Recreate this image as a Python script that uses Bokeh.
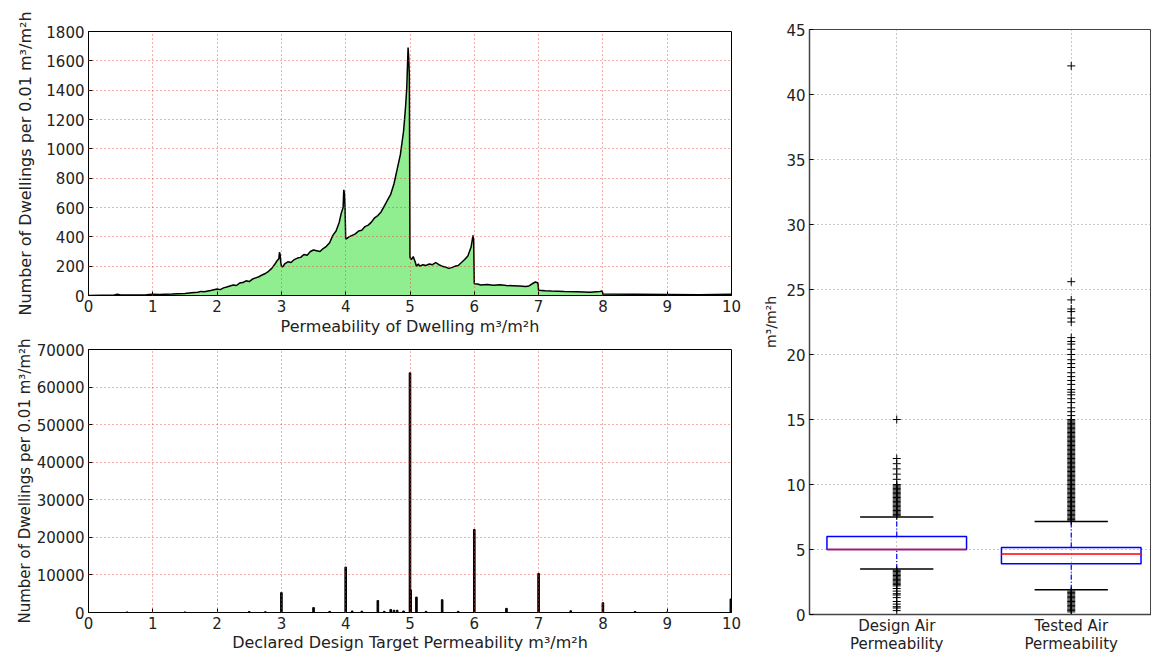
from bokeh.plotting import figure
from bokeh.layouts import row, column
from bokeh.models import FixedTicker, Range1d
from bokeh.embed import file_html
from bokeh.resources import INLINE

# ---------------- data ----------------
# Top: tested permeability histogram (count per 0.01 bin)
perm_x = [0.0, 0.2, 0.4, 0.45, 0.5, 0.7, 0.9, 1.0, 1.1, 1.2, 1.3, 1.4, 1.5, 1.6, 1.7, 1.75, 1.8, 1.9,
          2.0, 2.05, 2.1, 2.15, 2.2, 2.25, 2.3, 2.35, 2.4, 2.45, 2.5, 2.55, 2.6, 2.65, 2.7, 2.75, 2.8,
          2.85, 2.9, 2.93, 2.96, 2.97, 2.98, 2.99, 3.0, 3.02, 3.05, 3.1, 3.15, 3.2, 3.25, 3.3, 3.35,
          3.4, 3.45, 3.5, 3.55, 3.6, 3.65, 3.7, 3.75, 3.8, 3.85, 3.9, 3.93, 3.96, 3.97, 3.98, 3.99,
          4.0, 4.02, 4.05, 4.1, 4.15, 4.2, 4.25, 4.3, 4.35, 4.4, 4.45, 4.5, 4.55, 4.6, 4.65, 4.7,
          4.75, 4.8, 4.85, 4.9, 4.93, 4.95, 4.97, 4.98, 4.99, 5.0, 5.02, 5.05, 5.08, 5.1, 5.13, 5.15,
          5.2, 5.25, 5.3, 5.35, 5.4, 5.45, 5.5, 5.55, 5.6, 5.65, 5.7, 5.75, 5.8, 5.85, 5.9, 5.95,
          5.98, 5.99, 6.0, 6.05, 6.1, 6.2, 6.3, 6.4, 6.5, 6.6, 6.7, 6.8, 6.85, 6.9, 6.95, 6.99,
          7.0, 7.1, 7.2, 7.4, 7.6, 7.8, 7.95, 7.99, 8.0, 8.5, 9.0, 9.5, 10.0]
perm_count = [0, 2, 4, 8, 4, 3, 5, 8, 6, 9, 10, 12, 14, 18, 22, 28, 25, 34,
              45, 40, 52, 58, 65, 72, 68, 85, 88, 100, 95, 112, 120, 128, 140, 150, 165,
              185, 215, 235, 250, 295, 280, 230, 200, 195, 215, 230, 225, 245, 255, 260, 280,
              275, 300, 310, 305, 300, 320, 335, 360, 410, 440, 500, 560, 600, 720, 700, 600,
              385, 390, 400, 410, 420, 440, 445, 470, 480, 500, 530, 545, 570, 610, 650, 690,
              760, 860, 960, 1120, 1280, 1420, 1690, 1620, 1500, 260, 245, 265, 230, 200, 215, 200,
              210, 205, 215, 210, 225, 210, 200, 195, 185, 190, 200, 205, 225, 245, 270, 330,
              410, 380, 80, 78, 72, 75, 70, 73, 68, 66, 64, 62, 65, 80, 92, 85,
              35, 32, 30, 27, 25, 22, 28, 30, 10, 8, 6, 5, 8]

# Bottom: declared design target permeability histogram (count per 0.01 bin)
design_x = [0.6, 1.5, 2.5, 2.75, 3.0, 3.5, 3.75, 4.0, 4.1, 4.25, 4.5, 4.6, 4.7, 4.75, 4.8, 4.9,
            5.0, 5.01, 5.1, 5.25, 5.5, 5.75, 6.0, 6.5, 7.0, 7.5, 8.0, 8.5, 9.0, 9.99]
design_count = [150, 150, 250, 200, 5300, 1300, 300, 12100, 400, 350, 3200, 300, 800, 600, 600, 400,
                63800, 6000, 4100, 300, 3400, 300, 22100, 1100, 10400, 450, 2600, 250, 150, 3600]

# Right: box plot statistics
box_labels = ["Design Air\nPermeability", "Tested Air\nPermeability"]
box_pos = [1, 2]
box_q1 = [5.0, 3.9]
box_median = [5.0, 4.65]
box_q3 = [6.0, 5.15]
whisker_lo = [3.5, 1.9]
whisker_hi = [7.5, 7.15]
design_outliers = [7.6, 7.7, 7.8, 7.9, 8.0, 8.1, 8.2, 8.3, 8.4, 8.5, 8.6, 8.7, 8.8, 8.9, 9.0, 9.1,
                   9.2, 9.3, 9.4, 9.5, 9.6, 9.7, 9.8, 9.9, 10.0, 10.4, 10.8, 11.2, 11.6, 12.0, 15.0,
                   3.4, 3.3, 3.2, 3.1, 3.0, 2.9, 2.8, 2.7, 2.6, 2.5, 2.4, 2.3, 2.2, 2.0, 1.8, 1.6,
                   1.5, 1.3, 1.0, 0.8, 0.6, 0.5, 0.3]
tested_outliers = [7.2, 7.3, 7.4, 7.5, 7.6, 7.7, 7.8, 7.9, 8.0, 8.1, 8.2, 8.3, 8.4, 8.5, 8.6, 8.7,
                   8.8, 8.9, 9.0, 9.1, 9.2, 9.3, 9.4, 9.5, 9.6, 9.7, 9.8, 9.9, 10.0, 10.1, 10.2,
                   10.3, 10.4, 10.5, 10.6, 10.7, 10.8, 10.9, 11.0, 11.1, 11.2, 11.3, 11.4, 11.5,
                   11.6, 11.7, 11.8, 11.9, 12.0, 12.1, 12.2, 12.3, 12.4, 12.5, 12.6, 12.7, 12.8,
                   12.9, 13.0, 13.1, 13.2, 13.3, 13.4, 13.5, 13.6, 13.7, 13.8, 13.9, 14.0, 14.1,
                   14.2, 14.3, 14.4, 14.5, 14.6, 14.7, 14.8, 14.9, 15.0, 15.3, 15.6, 15.9, 16.3,
                   16.6, 16.9, 17.1, 17.3, 17.7, 18.0, 18.3, 18.6, 19.0, 19.3, 19.6, 20.0, 20.4,
                   20.8, 21.0, 21.3, 22.5, 22.8, 23.3, 23.5, 24.2, 25.6, 42.2,
                   1.8, 1.7, 1.6, 1.5, 1.4, 1.3, 1.2, 1.1, 1.0, 0.9, 0.8, 0.7, 0.6, 0.5, 0.4, 0.3, 0.2]

FONT = "DejaVu Sans"
TXT = "#222222"


def style_common(p):
    p.outline_line_color = "black"
    p.outline_line_width = 1
    p.axis.axis_line_color = "black"
    p.axis.major_tick_in = 4
    p.axis.major_tick_out = 0
    p.axis.major_tick_line_color = "black"
    p.axis.minor_tick_line_color = None
    p.axis.major_label_text_font = FONT
    p.axis.major_label_text_font_size = "15px"
    p.axis.major_label_text_color = TXT
    p.axis.major_label_standoff = 4
    p.axis.axis_label_text_font = FONT
    p.axis.axis_label_text_font_size = "16px"
    p.axis.axis_label_text_font_style = "normal"
    p.axis.axis_label_text_color = TXT
    p.background_fill_color = "white"
    p.border_fill_color = "white"


def style_red_grid(p):
    p.grid.grid_line_color = "#ee3333"
    p.grid.grid_line_alpha = 0.8
    p.grid.grid_line_dash = "1 3"
    p.grid.grid_line_width = 1
    p.grid.level = "overlay"


# ---------------- top-left ----------------
p1 = figure(width=760, height=339, x_range=Range1d(0, 10), y_range=Range1d(0, 1800),
            min_border_left=88, min_border_right=29, min_border_top=31, min_border_bottom=44,
            output_backend="svg", toolbar_location=None)
p1.varea(x=perm_x, y1=0, y2=perm_count, fill_color="#90ee90", fill_alpha=1.0)
p1.line(x=perm_x, y=perm_count, line_color="black", line_width=1.5)
style_common(p1)
style_red_grid(p1)
p1.xaxis.ticker = FixedTicker(ticks=list(range(0, 11)))
p1.yaxis.ticker = FixedTicker(ticks=list(range(0, 1801, 200)))
p1.xaxis.axis_label = "Permeability of Dwelling m³/m²h"
p1.yaxis.axis_label = "Number of Dwellings per 0.01 m³/m²h"
p1.xaxis.axis_label_standoff = 2
p1.yaxis.axis_label_standoff = 8

# ---------------- bottom-left ----------------
p2 = figure(width=760, height=316, x_range=Range1d(0, 10), y_range=Range1d(0, 70000),
            min_border_left=88, min_border_right=29, min_border_top=10, min_border_bottom=43,
            output_backend="svg", toolbar_location=None)
p2.vbar(x=design_x, top=design_count, width=0.025, fill_color="black", line_color="black",
        line_width=1)
style_common(p2)
style_red_grid(p2)
p2.xaxis.ticker = FixedTicker(ticks=list(range(0, 11)))
p2.yaxis.ticker = FixedTicker(ticks=list(range(0, 70001, 10000)))
p2.yaxis.formatter.use_scientific = False
p2.xaxis.axis_label = "Declared Design Target Permeability m³/m²h"
p2.yaxis.axis_label = "Number of Dwellings per 0.01 m³/m²h"
p2.yaxis.axis_label_text_font_size = "15px"
p2.xaxis.axis_label_standoff = 1
p2.yaxis.axis_label_standoff = 0

# ---------------- right box plot ----------------
p3 = figure(width=391, height=655, x_range=Range1d(0.5, 2.46), y_range=Range1d(0, 45),
            min_border_left=45, min_border_right=0, min_border_top=29, min_border_bottom=39,
            output_backend="svg", toolbar_location=None)
style_common(p3)
p3.outline_line_color = "#444444"
p3.axis.axis_line_color = "#444444"
p3.axis.axis_line_width = 1.5
p3.grid.grid_line_color = "#777777"
p3.grid.grid_line_dash = "1 3"
p3.grid.grid_line_alpha = 0.8
p3.grid.level = "underlay"
p3.xaxis.ticker = FixedTicker(ticks=box_pos)
p3.xaxis.major_label_overrides = {1: box_labels[0], 2: box_labels[1]}
p3.xaxis.major_label_text_line_height = 1.0
p3.xaxis.major_label_standoff = 2
p3.xaxis.major_tick_in = 0
p3.yaxis.ticker = FixedTicker(ticks=list(range(0, 46, 5)))
p3.yaxis.axis_label = "m³/m²h"
p3.yaxis.axis_label_text_font_size = "14px"
p3.yaxis.axis_label_standoff = 4

half_box = 0.4
half_cap = 0.21
left = [b - half_box for b in box_pos]
right = [b + half_box for b in box_pos]
cap_l = [b - half_cap for b in box_pos]
cap_r = [b + half_cap for b in box_pos]

# whiskers (blue dash-dot)
p3.segment(x0=box_pos, y0=box_q3, x1=box_pos, y1=whisker_hi, line_color="blue",
           line_dash="5 2 1 2", line_width=1.2)
p3.segment(x0=box_pos, y0=whisker_lo, x1=box_pos, y1=box_q1, line_color="blue",
           line_dash="5 2 1 2", line_width=1.2)
# caps
p3.segment(x0=cap_l, y0=whisker_hi, x1=cap_r, y1=whisker_hi, line_color="black", line_width=1.5)
p3.segment(x0=cap_l, y0=whisker_lo, x1=cap_r, y1=whisker_lo, line_color="black", line_width=1.5)
# boxes
p3.quad(left=left, right=right, bottom=box_q1, top=box_q3, fill_color=None,
        line_color="blue", line_width=1.5)
# medians
p3.segment(x0=left, y0=box_median, x1=right, y1=box_median, line_color="red", line_width=1.5)
# outliers
p3.scatter(x=[box_pos[0]] * len(design_outliers), y=design_outliers, marker="cross",
           size=8, line_color="black", line_width=1)
p3.scatter(x=[box_pos[1]] * len(tested_outliers), y=tested_outliers, marker="cross",
           size=8, line_color="black", line_width=1)

layout = row(column(p1, p2), p3)
open("out.html", "w").write(file_html(layout, INLINE))
